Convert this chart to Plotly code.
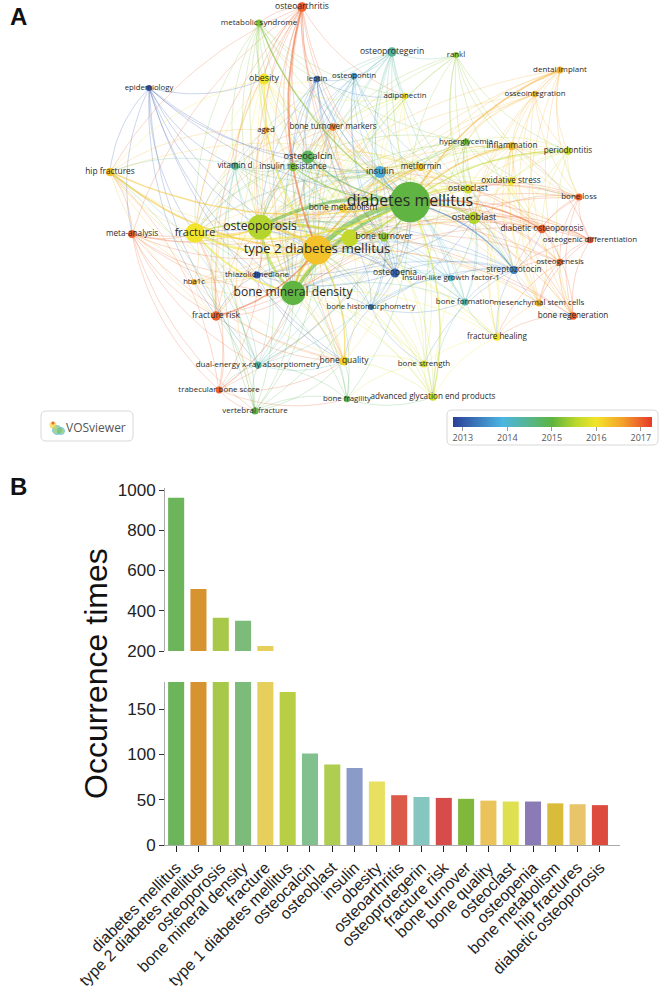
import numpy as np
import plotly.graph_objects as go
from plotly.colors import sample_colorscale

W, H = 661, 987

# ---------------- panel A : keyword network (VOSviewer overlay) ----------------
node_keys = ["dm", "t2", "op", "bmd", "fr", "t1", "ocn", "obl", "ins", "obs",
             "oa", "opg", "frk", "bt", "bq", "ocl", "opn", "bmet", "hip", "dop",
             "ms", "epi", "lep", "opt", "rankl", "dent", "osi", "adp", "aged", "btm",
             "hyp", "infl", "per", "vitd", "ir", "met", "ox", "bl", "odiff", "ogen",
             "stz", "igf", "tzd", "hba", "meta", "bhm", "bfm", "msc", "breg", "fh",
             "dxa", "bs", "tbs", "bfr", "age", "vf"]
node_labels = ["diabetes mellitus", "type 2 diabetes mellitus", "osteoporosis", "bone mineral density",
               "fracture", "", "osteocalcin", "osteoblast", "insulin", "obesity",
               "osteoarthritis", "osteoprotegerin", "fracture risk", "bone turnover", "bone quality",
               "osteoclast", "osteopenia", "bone metabolism", "hip fractures", "diabetic osteoporosis",
               "metabolic syndrome", "epidemiology", "leptin", "osteopontin", "rankl",
               "dental implant", "osseointegration", "adiponectin", "aged", "bone turnover markers",
               "hyperglycemia", "inflammation", "periodontitis", "vitamin d", "insulin resistance",
               "metformin", "oxidative stress", "bone loss", "osteogenic differentiation", "osteogenesis",
               "streptozotocin", "insulin-like growth factor-1", "thiazolidinedione", "hba1c", "meta-analysis",
               "bone histomorphometry", "bone formation", "mesenchymal stem cells", "bone regeneration",
               "fracture healing", "dual-energy x-ray absorptiometry", "bone strength",
               "trabecular bone score", "bone fragility", "advanced glycation end products",
               "vertebral fracture"]
# map coordinates (VOSviewer layout units)
node_x = [410, 317, 260, 293, 195, 350, 308, 474, 380, 264,
          302, 392, 216, 384, 344, 468, 395, 343, 110, 542,
          259, 149, 317, 354, 456, 560, 535, 405, 266, 333,
          466, 512, 568, 235, 293, 421, 511, 579, 590, 560,
          514, 451, 257, 194, 132, 371, 465, 539, 573, 497,
          258, 424, 219, 347, 433, 255]
node_y = [202, 250, 227, 293, 233, 238, 157, 218, 172, 79,
          7, 52, 316, 237, 361, 189, 273, 208, 172, 229,
          23, 88, 79, 76, 55, 70, 94, 96, 130, 127,
          142, 146, 151, 166, 167, 167, 181, 197, 240, 262,
          270, 278, 275, 282, 234, 307, 302, 303, 316, 337,
          365, 364, 390, 399, 397, 411]
node_occ = [962, 508, 365, 350, 225, 169, 101, 89, 85, 70,
            55, 53, 52, 51, 49, 48, 48, 46, 45, 44,
            30, 22, 24, 24, 22, 28, 24, 24, 22, 32,
            30, 38, 35, 35, 43, 36, 38, 30, 26, 25,
            36, 25, 30, 20, 36, 22, 30, 30, 35, 35,
            30, 30, 28, 25, 35, 30]
node_year = [2015.0, 2016.3, 2015.5, 2015.0, 2016.0, 2015.6, 2014.8, 2015.5, 2013.8, 2016.0,
             2017.0, 2014.4, 2017.0, 2015.3, 2016.2, 2015.8, 2013.2, 2016.2, 2016.3, 2017.0,
             2015.2, 2013.0, 2013.2, 2013.6, 2015.3, 2016.5, 2016.4, 2015.9, 2016.5, 2016.8,
             2015.2, 2016.4, 2015.6, 2014.5, 2015.2, 2016.3, 2016.0, 2017.0, 2017.1, 2017.0,
             2013.4, 2014.0, 2013.0, 2016.5, 2017.0, 2013.3, 2014.3, 2016.5, 2017.0, 2016.0,
             2014.3, 2015.8, 2017.0, 2014.8, 2015.7, 2014.9]

strong_links = [("dm", "t2", 10), ("dm", "op", 6), ("dm", "bmd", 6), ("t2", "bmd", 5), ("t2", "op", 5),
                ("fr", "t2", 4), ("op", "bmd", 5), ("fr", "op", 3), ("fr", "bmd", 3), ("fr", "dm", 3),
                ("t1", "dm", 4), ("t1", "t2", 2), ("t1", "bmd", 3), ("t1", "op", 2), ("t1", "fr", 2),
                ("ocn", "dm", 2), ("ins", "dm", 2), ("obl", "dm", 3), ("hip", "t2", 3), ("oa", "t2", 3),
                ("obs", "t2", 2), ("ms", "dm", 2), ("per", "dm", 2), ("stz", "dm", 2), ("dop", "dm", 2),
                ("ir", "dm", 2), ("met", "t2", 2), ("frk", "t2", 2), ("dent", "dm", 2), ("infl", "dm", 2),
                ("ocl", "dm", 2), ("bt", "dm", 2), ("bq", "t2", 2), ("age", "dm", 2), ("hip", "dm", 2)]

weak_links = {
    "oa": ["dm", "op", "bmd", "fr", "ins", "obs", "btm", "bt", "ocn", "meta", "frk", "bq", "opn", "hip", "vitd", "lep", "adp", "ms", "aged", "ir"],
    "ms": ["t2", "obs", "op", "bmd", "ir", "ins", "ocn", "fr", "hyp", "adp", "lep", "vitd", "met", "bt"],
    "epi": ["dm", "t2", "op", "bmd", "fr", "hip", "frk", "meta", "ocn", "ins", "vitd", "bq", "dxa", "obs"],
    "obs": ["dm", "op", "bmd", "fr", "ir", "ins", "ocn", "adp", "lep", "aged", "vitd", "met", "bt", "hip", "frk", "btm"],
    "lep": ["dm", "t2", "op", "bmd", "obs", "ins", "ocn", "adp", "opt", "ir", "bt", "opn", "btm"],
    "opt": ["dm", "t2", "op", "bmd", "ocn", "opg", "obl", "ocl", "ins", "bt", "opn"],
    "opg": ["dm", "t2", "op", "bmd", "rankl", "ocn", "obl", "ocl", "bt", "btm", "opn", "ins", "bfm", "fr", "vitd", "adp"],
    "rankl": ["dm", "t2", "opg", "obl", "ocl", "op", "bmd", "bl", "infl", "per", "ocn", "stz", "dop"],
    "dent": ["t2", "osi", "per", "infl", "bl", "breg", "obl", "op", "met", "hyp", "ox", "msc"],
    "osi": ["dm", "t2", "dent", "per", "bl", "breg", "obl", "op", "bmd", "infl", "hyp", "msc"],
    "adp": ["dm", "t2", "op", "bmd", "obs", "ins", "ocn", "ir", "lep", "met", "bt"],
    "aged": ["dm", "t2", "op", "bmd", "fr", "hip", "obs", "frk", "bq", "vf"],
    "btm": ["dm", "t2", "op", "bmd", "fr", "ocn", "bt", "bq", "opn", "vitd", "frk", "ins"],
    "hyp": ["dm", "t2", "op", "bmd", "obl", "ocl", "ox", "infl", "ins", "met", "stz", "bl", "ocn", "age"],
    "infl": ["t2", "op", "bmd", "per", "ox", "bl", "obl", "ocl", "dent", "osi", "hyp", "met", "stz", "dop", "msc", "breg", "fh"],
    "per": ["t2", "op", "bl", "infl", "dent", "osi", "ox", "hyp", "obl", "ocl", "met", "stz", "dop", "breg"],
    "vitd": ["dm", "t2", "op", "bmd", "fr", "ocn", "ir", "ins", "obs", "hip", "bt", "vf", "frk", "dxa"],
    "ir": ["t2", "op", "bmd", "fr", "ins", "ocn", "obs", "adp", "met", "bt", "hyp", "bmet", "vitd", "lep"],
    "met": ["dm", "op", "bmd", "fr", "ins", "ocn", "obl", "ocl", "ir", "tzd", "hyp", "stz", "bmet", "infl", "ox", "frk", "hip", "dop"],
    "ox": ["dm", "t2", "op", "obl", "ocl", "infl", "stz", "dop", "odiff", "ogen", "bl", "hyp", "age", "msc", "breg", "fh"],
    "bl": ["dm", "t2", "op", "bmd", "obl", "ocl", "per", "infl", "dop", "stz", "odiff", "ogen", "breg", "ox", "dent"],
    "odiff": ["dm", "t2", "op", "obl", "msc", "ogen", "dop", "stz", "breg", "bl", "ox", "infl"],
    "ogen": ["dm", "t2", "op", "obl", "msc", "odiff", "dop", "breg", "fh", "stz", "ox"],
    "stz": ["t2", "op", "bmd", "obl", "ocl", "ins", "bfm", "bhm", "opn", "dop", "ox", "fh", "bs", "msc", "igf"],
    "igf": ["dm", "t2", "op", "bmd", "ins", "obl", "bfm", "opn", "bt", "bhm"],
    "tzd": ["dm", "t2", "op", "bmd", "fr", "ins", "met", "frk", "obl", "bq", "opn"],
    "hba": ["dm", "t2", "op", "bmd", "fr", "frk", "bq", "met", "ins", "meta"],
    "meta": ["dm", "t2", "op", "bmd", "fr", "frk", "hip", "hba", "tzd", "met", "vf", "dxa", "tbs", "bq", "epi"],
    "bhm": ["dm", "t2", "op", "bmd", "bt", "bfm", "bq", "opn", "ins", "obl", "bs", "stz", "t1"],
    "bfm": ["dm", "t2", "op", "bmd", "obl", "ocl", "bt", "bhm", "fh", "age", "stz", "ins"],
    "msc": ["dm", "t2", "op", "obl", "odiff", "ogen", "breg", "fh", "dop", "stz", "ox", "infl"],
    "breg": ["dm", "t2", "op", "obl", "msc", "fh", "ogen", "odiff", "dop", "bl", "dent", "osi"],
    "fh": ["dm", "t2", "op", "bmd", "fr", "obl", "ocl", "bfm", "msc", "breg", "stz", "age", "bs"],
    "dxa": ["dm", "t2", "op", "bmd", "fr", "frk", "bq", "tbs", "vf", "ocn", "bt", "opn", "t1", "hip", "meta"],
    "bs": ["dm", "t2", "op", "bmd", "fr", "bq", "age", "bfr", "bhm", "bt", "stz", "fh"],
    "tbs": ["dm", "t2", "op", "bmd", "fr", "frk", "meta", "dxa", "bq", "vf", "bfr", "hip"],
    "bfr": ["dm", "t2", "op", "bmd", "fr", "bq", "vf", "age", "bs", "tbs", "dxa"],
    "age": ["t2", "op", "bmd", "fr", "bq", "bs", "bfr", "ocn", "bt", "ox", "fh", "bfm"],
    "vf": ["dm", "t2", "op", "bmd", "fr", "frk", "dxa", "tbs", "bq", "bfr", "vitd", "hip", "meta"],
    "hip": ["op", "bmd", "fr", "frk", "meta", "vitd", "epi", "obs", "bq"],
    "frk": ["dm", "op", "bmd", "fr", "meta", "tbs", "hba", "dxa", "bq", "tzd", "vf", "hip", "obs"],
    "dop": ["t2", "op", "bmd", "obl", "ocl", "stz", "ox", "bl", "odiff", "ogen", "msc", "breg", "infl", "ins"],
    "bmet": ["dm", "t2", "op", "bmd", "fr", "ocn", "bt", "ins", "obl", "ir"],
    "opn": ["dm", "t2", "op", "bmd", "fr", "ins", "bt", "ocn", "bhm", "stz", "t1"],
    "ocl": ["t2", "op", "bmd", "obl", "ocn", "bt", "opg", "rankl", "infl", "ox"],
    "obl": ["t2", "op", "bmd", "ocn", "ocl", "bt", "ins", "stz", "bfm", "fh", "infl"],
    "ocn": ["t2", "op", "bmd", "fr", "ins", "ir", "obl", "bt", "obs", "vitd", "t1"],
    "ins": ["t2", "op", "bmd", "fr", "ocn", "ir", "obl", "t1", "bt"],
    "bt": ["t2", "op", "bmd", "fr", "ocn", "ins", "obl", "ocl", "t1"],
    "bq": ["dm", "op", "bmd", "fr", "t1", "frk", "bfr", "bs"],
}

year_min, year_max = 2012.78, 2017.25
vos_scale = [[0.0, "#2b3f98"], [0.25, "#4cb6e2"], [0.5, "#5fb440"], [0.62, "#bcd82c"],
             [0.72, "#f2e42a"], [0.85, "#f4a22a"], [1.0, "#e6382b"]]

idx = {k: i for i, k in enumerate(node_keys)}


def year_color(year, alpha):
    t = min(max((year - year_min) / (year_max - year_min), 0), 1)
    c = sample_colorscale(vos_scale, [t])[0]
    return c.replace("rgb(", "rgba(").replace(")", ", %.2f)" % alpha)


def arc(a, b, k=0.17, n=18):
    x0, y0 = node_x[idx[a]], node_y[idx[a]]
    x1, y1 = node_x[idx[b]], node_y[idx[b]]
    cx = (x0 + x1) / 2 - k * (y1 - y0)
    cy = (y0 + y1) / 2 + k * (x1 - x0)
    t = np.linspace(0, 1, n)
    bx = (1 - t) ** 2 * x0 + 2 * (1 - t) * t * cx + t ** 2 * x1
    by = (1 - t) ** 2 * y0 + 2 * (1 - t) * t * cy + t ** 2 * y1
    return list(bx) + [None], list(by) + [None]


# collect links, strong ones win over duplicates
links = []
seen = set()
for a, b, w in strong_links:
    seen.add(frozenset((a, b)))
    links.append((a, b, w))
weak = []
for a, targets in weak_links.items():
    for b in targets:
        key = frozenset((a, b))
        if key in seen:
            continue
        seen.add(key)
        weak.append((a, b, 1))
links = weak + links

groups = {}
for a, b, w in links:
    alpha = 0.35 if w == 1 else 0.55
    col = year_color(node_year[idx[a]], alpha)
    width = 0.7 if w == 1 else 0.5 + 0.45 * w
    key = (col, width)
    xs, ys = arc(a, b)
    g = groups.setdefault(key, ([], []))
    g[0].extend(xs)
    g[1].extend(ys)

fig = go.Figure()

for (col, width), (xs, ys) in groups.items():
    fig.add_trace(go.Scatter(x=xs, y=ys, mode="lines", xaxis="x3", yaxis="y3",
                             line=dict(color=col, width=width), hoverinfo="none"))

order = sorted(range(len(node_keys)), key=lambda i: node_occ[i])
fig.add_trace(go.Scatter(
    x=[node_x[i] for i in order], y=[node_y[i] for i in order],
    mode="markers", xaxis="x3", yaxis="y3",
    marker=dict(size=[1.3 * np.sqrt(node_occ[i]) for i in order],
                color=[node_year[i] for i in order],
                colorscale=vos_scale, cmin=year_min, cmax=year_max,
                line=dict(width=0), opacity=1,
                showscale=True,
                colorbar=dict(orientation="h", x=552.5 / W, xanchor="center",
                              y=1 - 417 / H, yanchor="top",
                              len=199 / W, lenmode="fraction",
                              thickness=10, thicknessmode="pixels",
                              xpad=0, ypad=0, outlinewidth=0,
                              tickvals=[2013, 2014, 2015, 2016, 2017],
                              ticks="outside", ticklen=4, tickcolor="#999",
                              tickfont=dict(size=9, color="#555", family="Open Sans"))),
    text=[node_labels[i] for i in order], hoverinfo="text"))

fig.add_trace(go.Scatter(
    x=node_x, y=node_y, mode="text", xaxis="x3", yaxis="y3",
    text=node_labels, textposition="middle center",
    textfont=dict(family="Open Sans", color="#2a2a2a",
                  size=[6.3 + 0.31 * np.sqrt(o) for o in node_occ]),
    hoverinfo="none"))

# VOSviewer logo mark
fig.add_trace(go.Scatter(x=[57, 53, 61, 53], y=[430, 425, 431, 423], mode="markers",
                         xaxis="x3", yaxis="y3", hoverinfo="none",
                         marker=dict(size=[9, 7, 7, 3], color=["#7cc26a", "#f2d23c", "#7cc26a", "#d9342b"],
                                     line=dict(width=[1, 0, 1, 0], color="#4cb6e2"))))

# ---------------- panel B : top keywords ----------------
keywords = ["diabetes mellitus", "type 2 diabetes mellitus", "osteoporosis", "bone mineral density",
            "fracture", "type 1 diabetes mellitus", "osteocalcin", "osteoblast", "insulin", "obesity",
            "osteoarthritis", "osteoprotegerin", "fracture risk", "bone turnover", "bone quality",
            "osteoclast", "osteopenia", "bone metabolism", "hip fractures", "diabetic osteoporosis"]
occurrences = [962, 508, 365, 350, 225, 169, 101, 89, 85, 70,
               55, 53, 52, 51, 49, 48, 48, 46, 45, 44]
bar_colors = ["#6db55a", "#d6932f", "#a8c84a", "#7dbb7a", "#e6cf5a", "#b8cf45", "#82c08e", "#afcd50",
              "#8a9bc9", "#e8e060", "#db5a4a", "#85c7c0", "#d84b4b", "#80b83c", "#eac45a", "#dfe050",
              "#8a7ab5", "#d9bd3a", "#e8c46a", "#dc4b3e"]

for xa, ya in (("x", "y"), ("x2", "y2")):
    fig.add_trace(go.Bar(x=keywords, y=occurrences, xaxis=xa, yaxis=ya,
                         marker=dict(color=bar_colors, line=dict(width=0)),
                         hoverinfo="x+y"))

bx0, bx1 = 165 / W, 620 / W
axis_font = dict(family="Liberation Sans, Arial", size=17, color="#222")

fig.update_layout(
    width=W, height=H, margin=dict(l=0, r=0, t=0, b=0, autoexpand=False),
    paper_bgcolor="white", plot_bgcolor="white", showlegend=False, bargap=0.28,
    xaxis3=dict(domain=[0, 1], range=[0, W], visible=False, fixedrange=True, automargin=False),
    yaxis3=dict(domain=[1 - 450 / H, 1], range=[450, 0], visible=False, fixedrange=True, automargin=False),
    xaxis=dict(domain=[bx0, bx1], range=[-0.5, 19.9], anchor="y", automargin=False,
               tickmode="array", tickvals=keywords, ticktext=keywords,
               showline=True, linecolor="#aaa", linewidth=1,
               ticks="outside", ticklen=6, tickcolor="#222", tickangle=-45,
               tickfont=dict(family="Liberation Sans, Arial", size=16, color="#222"),
               showgrid=False, zeroline=False),
    yaxis=dict(domain=[1 - 845 / H, 1 - 682 / H], range=[0, 180], anchor="x", automargin=False,
               tickvals=[0, 50, 100, 150], showline=True, linecolor="#aaa", linewidth=1,
               ticks="outside", ticklen=5, tickcolor="#333", tickfont=axis_font,
               showgrid=False, zeroline=False),
    xaxis2=dict(domain=[bx0, bx1], range=[-0.5, 19.9], anchor="y2", visible=False, automargin=False),
    yaxis2=dict(domain=[1 - 651 / H, 1 - 488 / H], range=[200, 1010], anchor="x2", automargin=False,
                tickvals=[200, 400, 600, 800, 1000], showline=True, linecolor="#aaa", linewidth=1,
                ticks="outside", ticklen=5, tickcolor="#333", tickfont=axis_font,
                showgrid=False, zeroline=False),
    shapes=[
        dict(type="path", xref="x3", yref="y3", line=dict(color="#d8d8d8", width=1),
             path="M 46 411 L 128 411 Q 133 411 133 416 L 133 436 Q 133 441 128 441 "
                  "L 46 441 Q 41 441 41 436 L 41 416 Q 41 411 46 411 Z"),
        dict(type="path", xref="x3", yref="y3", line=dict(color="#d8d8d8", width=1),
             path="M 452 410 L 653 410 Q 658 410 658 415 L 658 440 Q 658 445 653 445 "
                  "L 452 445 Q 447 445 447 440 L 447 415 Q 447 410 452 410 Z"),
    ],
    annotations=[
        dict(text="<b>A</b>", x=18 / W, y=1 - 17 / H, xref="paper", yref="paper", showarrow=False,
             xanchor="center", yanchor="middle",
             font=dict(family="Liberation Sans, Arial", size=24, color="#111")),
        dict(text="<b>B</b>", x=18 / W, y=1 - 487 / H, xref="paper", yref="paper", showarrow=False,
             xanchor="center", yanchor="middle",
             font=dict(family="Liberation Sans, Arial", size=24, color="#111")),
        dict(text="VOSviewer", x=96, y=427, xref="x3", yref="y3", showarrow=False,
             xanchor="center", yanchor="middle",
             font=dict(family="Open Sans", size=12, color="#555")),
        dict(text="Occurrence times", x=96 / W, y=1 - 674 / H, xref="paper", yref="paper",
             showarrow=False, textangle=-90, xanchor="center", yanchor="middle",
             font=dict(family="Liberation Sans, Arial", size=32, color="#111")),
    ],
)

# page body has a default 8px margin; remove it so the figure fills the window
fig.write_html("out.html", config={"displayModeBar": False},
               post_script="document.body.style.margin='0';")
